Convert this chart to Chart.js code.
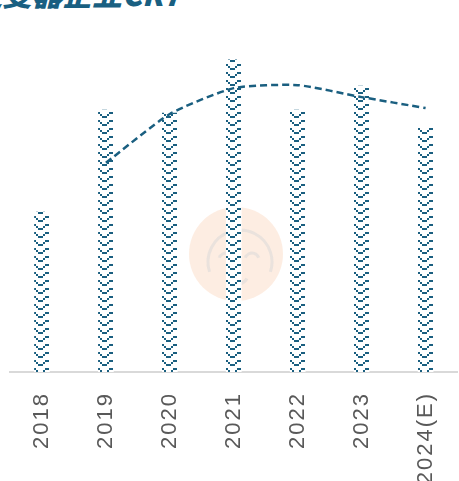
<!DOCTYPE html>
<html>
<head>
<meta charset="utf-8">
<script src="https://cdn.jsdelivr.net/npm/chart.js@4.4.1/dist/chart.umd.min.js"></script>
<style>
  html, body { margin: 0; padding: 0; background: #fff; overflow: hidden; width: 459px; height: 481px; }
  #wrap { position: relative; width: 464px; height: 481px; }
  #title {
    position: absolute; left: -28px; top: -22px;
    font-family: "Noto Sans CJK SC", sans-serif; font-weight: 900; font-style: italic;
    font-size: 30px; line-height: 30px; color: #195f81; white-space: nowrap;
  }
  canvas { position: absolute; left: 0; top: 0; }
</style>
</head>
<body>
<div id="wrap">
  <div id="title">逆变器企业CR7</div>
  <canvas id="chart" width="464" height="481"></canvas>
</div>
<script>
// data
const years = ['2018', '2019', '2020', '2021', '2022', '2023', '2024(E)'];
const barValues = [48.2, 78.9, 78.0, 94.0, 78.9, 86.1, 73.5];
const lineValues = [null, 63.0, 77.7, 85.5, 86.4, 82.8, 79.5];

const mainColor = '#1a5f80';
const barWidth = 15;

// chevron tile for the bars
const tile = document.createElement('canvas');
tile.width = 16;
tile.height = 8;
(function () {
  const t = tile.getContext('2d');
  t.fillStyle = '#ffffff';
  t.fillRect(0, 0, 16, 8);
  t.fillStyle = mainColor;
  t.fillRect(0, 0, 2, 2);
  t.fillRect(2, 2, 2, 2);
  t.fillRect(4, 4, 5, 2);
  t.fillRect(9, 2, 2, 2);
  t.fillRect(11, 0, 4, 2);
})();

// pattern shifted so every bar starts with a whole chevron
function barFill(context) {
  const chart = context.chart;
  const p = chart.ctx.createPattern(tile, 'repeat');
  if (chart.scales.x && context.dataIndex !== undefined) {
    const left = Math.round(chart.scales.x.getPixelForValue(context.dataIndex) - barWidth / 2);
    p.setTransform(new DOMMatrix().translate(left, 0));
  }
  return p;
}

// spaced-out tick labels
const spacing = {
  id: 'spacing',
  beforeDraw(chart) {
    chart.ctx.letterSpacing = '2px';
  }
};

// faint watermark behind the bars
const watermark = {
  id: 'watermark',
  beforeDatasetsDraw(chart) {
    const ctx = chart.ctx;
    ctx.save();
    ctx.fillStyle = 'rgba(251, 215, 190, 0.45)';
    ctx.beginPath();
    ctx.arc(236, 254, 47, 0, Math.PI * 2);
    ctx.fill();
    ctx.strokeStyle = 'rgba(215, 215, 215, 0.5)';
    ctx.lineWidth = 3;
    ctx.beginPath();
    ctx.arc(240, 262, 32, Math.PI * 0.9, Math.PI * 2.1);
    ctx.stroke();
    ctx.beginPath();
    ctx.arc(226, 260, 7, Math.PI * 1.1, Math.PI * 1.9);
    ctx.stroke();
    ctx.beginPath();
    ctx.arc(252, 260, 7, Math.PI * 1.1, Math.PI * 1.9);
    ctx.stroke();
    ctx.beginPath();
    ctx.arc(238, 274, 10, Math.PI * 0.15, Math.PI * 0.85);
    ctx.stroke();
    ctx.restore();
  }
};

const ctx = document.getElementById('chart').getContext('2d');

const myChart = new Chart(ctx, {
  type: 'bar',
  data: {
    labels: years,
    datasets: [{
      type: 'line',
      label: 'CR7',
      data: lineValues,
      yAxisID: 'y1',
      borderColor: mainColor,
      borderWidth: 2.5,
      borderDash: [7, 4],
      tension: 0.2,
      pointRadius: 0,
      fill: false,
      order: 0
    }, {
      type: 'bar',
      label: 'value',
      data: barValues,
      yAxisID: 'y',
      backgroundColor: barFill,
      borderWidth: 0,
      barThickness: barWidth,
      order: 1
    }]
  },
  options: {
    responsive: false,
    animation: false,
    devicePixelRatio: 1,
    layout: { padding: { left: 10, right: 0, top: 40, bottom: 0 } },
    plugins: {
      legend: { display: false },
      tooltip: { enabled: false }
    },
    scales: {
      x: {
        grid: { display: false },
        border: { display: true, color: '#d9d9d9', width: 2 },
        ticks: {
          color: '#595959',
          font: { family: 'Liberation Sans, Arial, sans-serif', size: 22 },
          minRotation: 90,
          maxRotation: 90,
          padding: 12,
          autoSkip: false
        },
        afterFit(scale) { scale.height = 109; }
      },
      y: {
        display: false,
        min: 0,
        max: 100
      },
      y1: {
        display: false,
        min: 0,
        max: 100
      }
    }
  },
  plugins: [spacing, watermark]
});
</script>
</body>
</html>
